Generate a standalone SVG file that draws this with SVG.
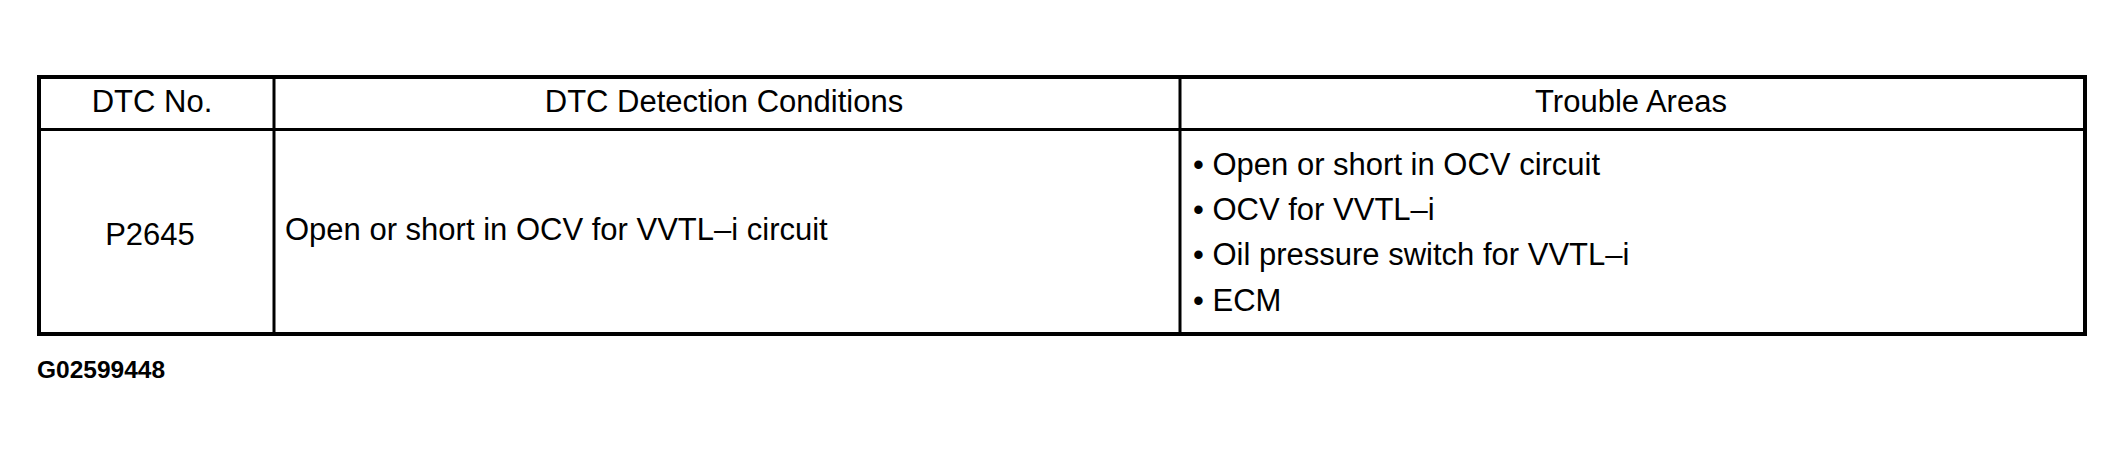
<svg xmlns="http://www.w3.org/2000/svg" width="2124" height="455" viewBox="0 0 2124 455">
<style>
.t{font-family:"Liberation Sans",Arial,sans-serif;font-size:31px;fill:#000}
.c{text-anchor:middle}
.lab{font-family:"Liberation Sans",Arial,sans-serif;font-size:24.5px;font-weight:bold;fill:#000}
.frame{fill:none;stroke:#000;stroke-width:4}
.rule{stroke:#000;stroke-width:3;fill:none}
</style>
<rect width="2124" height="455" fill="#fff"/>
<g id="table-lines">
<rect class="frame" x="39" y="77" width="2046" height="257"/>
<line class="rule" x1="39" y1="129.5" x2="2085" y2="129.5"/>
<line class="rule" x1="274" y1="77" x2="274" y2="334"/>
<line class="rule" x1="1180" y1="77" x2="1180" y2="334"/>
</g>
<g id="header-dtc"><text class="t c" x="152" y="112">DTC No.</text></g>
<g id="header-conditions"><text class="t c" x="724" y="112">DTC Detection Conditions</text></g>
<g id="header-areas"><text class="t c" x="1631" y="112">Trouble Areas</text></g>
<g id="cell-dtc"><text class="t c" x="150" y="245">P2645</text></g>
<g id="cell-conditions"><text class="t" x="285" y="240">Open or short in OCV for VVTL–i circuit</text></g>
<g id="cell-areas">
<text class="t" x="1193" y="175">• Open or short in OCV circuit</text>
<text class="t" x="1193" y="220">• OCV for VVTL–i</text>
<text class="t" x="1193" y="265">• Oil pressure switch for VVTL–i</text>
<text class="t" x="1193" y="311">• ECM</text>
</g>
<g id="figure-label"><text class="lab" x="37" y="378">G02599448</text></g>
</svg>
